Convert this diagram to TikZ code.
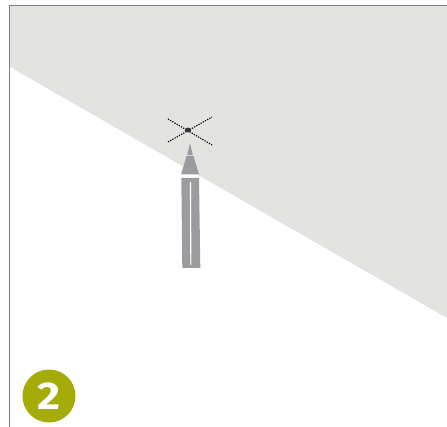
\documentclass[tikz,border=0pt]{standalone}
\usepackage{fontspec}
\setsansfont{Fira Sans}
\usepackage{tikz}
\definecolor{wedgegray}{HTML}{E3E3E1}
\definecolor{pencilgray}{HTML}{9C9B9F}
\definecolor{framegray}{HTML}{808080}
\definecolor{badgegreen}{HTML}{A5AC08}

\begin{document}
\begin{tikzpicture}[x=0.2mm, y=-0.2mm, every node/.style={inner sep=0pt}]
                \useasboundingbox (0,0) rectangle (447,427);
                
                \coordinate (C) at (188,130);
                \coordinate (TL) at (168,119);
                \coordinate (TR) at (212,117);
                \coordinate (BL) at (168,142);
                \coordinate (BR) at (212,145);
                
                \fill[wedgegray] (10,6) -- (447,6) -- (447,318) -- (10,67) -- cycle;
                \draw[framegray, line width=0.32mm] (447,5.5) -- (9.5,5.5) -- (9.5,427);
                
                \draw[black, line width=0.22mm, dash pattern=on 0.25mm off 0.25mm] (TL) -- (BR);
                \draw[black, line width=0.22mm, dash pattern=on 0.25mm off 0.25mm] (BL) -- (TR);
                \fill[black!80] (C) ellipse (3.2 and 2.4);
                
                \fill[pencilgray] (190,143) -- (192.8,155) -- (187.2,155) -- cycle;
                \fill[pencilgray] (186.6,155.8) -- (193.4,155.8) -- (199,174.5) -- (181,174.5) -- cycle;
                \fill[pencilgray] (181.3,178) -- (199,178) -- (200.3,268) -- (182.3,268) -- cycle;
                \fill[white] (189.9,182) -- (191,182) -- (191.4,265) -- (190.3,265) -- cycle;
                
                \fill[badgegreen] (49,396) circle (26.5);
                \node[white, xscale=1.15, font=\sffamily\bfseries\fontsize{22}{22}\selectfont] (badge) at (49,396) {2};
            \end{tikzpicture}
\end{document}
